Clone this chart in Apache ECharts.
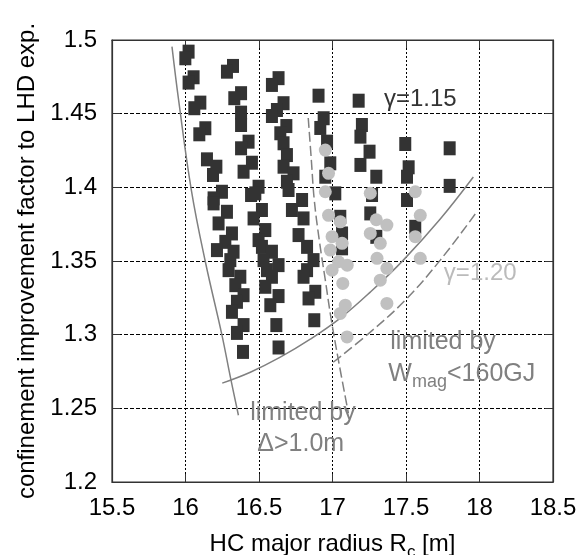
<!DOCTYPE html>
<html><head><meta charset="utf-8">
<script src="https://cdn.jsdelivr.net/npm/echarts@6/dist/echarts.min.js"></script>
<style>html,body{margin:0;padding:0;background:#fff}#c{width:584px;height:555px}</style>
</head><body><div id="c"></div>
<script>
const xTicks = ['15.5','16','16.5','17','17.5','18','18.5'];
const yTicks = ['1.2','1.25','1.3','1.35','1.4','1.45','1.5'];

// gamma = 1.15 cases (black squares)
const squaresX = [
  16.021,15.999,16.323,16.282,16.055,16.021,16.633,16.588,16.378,16.332,
  16.101,16.060,16.667,16.622,16.588,16.378,16.378,16.135,16.094,16.686,
  16.645,16.667,16.429,16.378,16.690,16.667,16.146,16.210,16.187,16.452,
  16.395,16.735,16.690,16.701,16.248,16.191,16.497,16.446,
  16.191,16.282,16.225,16.316,16.271,16.214,16.327,16.305,16.293,16.373,
  16.339,16.395,16.350,16.316,16.395,16.350,16.391,
  16.475,16.520,16.463,16.543,16.497,16.520,16.588,16.531,16.633,16.554,
  16.588,16.543,16.633,16.577,16.618,16.633,
  16.793,16.724,16.803,16.769,16.827,16.871,16.827,16.803,16.883,16.837,16.876,
  16.905,16.940,16.917,16.963,16.985,16.951,17.019,17.053,17.065,17.065,
  17.178,17.200,17.190,17.252,17.190,17.298,17.269,17.257,17.298,
  17.495,17.518,17.507,17.507,17.563,
  17.797,17.797
];
const squaresY = [
  1.4921,1.4876,1.4824,1.4785,1.4747,1.4711,1.4741,1.4695,1.4639,1.4605,
  1.4575,1.4537,1.4571,1.4525,1.4484,1.4507,1.4423,1.4401,1.4360,1.4416,
  1.4367,1.4299,1.4310,1.4265,1.4219,1.4140,1.4190,1.4140,1.4084,1.4167,
  1.4106,1.4095,1.4038,1.3982,1.3970,1.3925,1.4004,1.3948,
  1.3891,1.3834,1.3755,1.3687,1.3630,1.3574,1.3563,1.3506,1.3438,1.3393,
  1.3336,1.3268,1.3223,1.3155,1.3065,1.3012,1.2883,
  1.3959,1.3846,1.3789,1.3710,1.3642,1.3596,1.3563,1.3506,1.3472,1.3438,
  1.3393,1.3325,1.3262,1.3200,1.3065,1.2913,
  1.3914,1.3846,1.3789,1.3676,1.3596,1.3506,1.3438,1.3393,1.3291,1.3246,1.3098,
  1.4622,1.4469,1.4403,1.4310,1.4163,1.4072,1.3959,1.3800,1.3687,1.3586,
  1.4588,1.4423,1.4344,1.4242,1.4152,1.4072,1.3948,1.3823,1.3664,
  1.4294,1.4136,1.4072,1.3914,1.3732,
  1.4265,1.4010
];
// gamma = 1.20 cases (gray circles)
const circlesX = [
  16.951,16.973,16.951,16.973,17.053,16.997,17.065,16.985,17.041,17.100,16.997,17.070,17.087,17.053,17.099,
  17.257,17.298,17.370,17.257,17.325,17.303,17.370,17.325,17.370,
  17.563,17.597,17.563,17.597
];
const circlesY = [
  1.4253,1.4095,1.3970,1.3810,1.3766,1.3665,1.3620,1.3574,1.3495,1.3472,1.3438,1.3348,1.3200,1.3144,1.2985,
  1.3960,1.3780,1.3744,1.3687,1.3620,1.3518,1.3450,1.3370,1.3212,
  1.3970,1.3810,1.3665,1.3518
];
// limit curves
const deltaSolidX = [15.908,15.953,16.04,16.135,16.248,16.305,16.36];
const deltaSolidY = [1.4955,1.4593,1.398,1.3495,1.2997,1.2713,1.2453];
const deltaDashX = [16.835,16.856,16.876,16.910,16.951,16.992,17.040,17.108];
const deltaDashY = [1.4471,1.4186,1.3914,1.3642,1.3371,1.3099,1.2828,1.2468];
const wmagSolidX = [16.250,16.441,16.645,16.849,17.053,17.257,17.482,17.733,17.958];
const wmagSolidY = [1.2671,1.2745,1.2847,1.2969,1.3112,1.3289,1.3506,1.3785,1.4070];
const wmagDashX = [17.005,17.257,17.495,17.733,17.971];
const wmagDashY = [1.2813,1.3017,1.3234,1.3506,1.3819];

// annotations: text and anchor in data coordinates
const annotations = [
  {key:'g115', text:'γ=1.15', x:17.597, y:1.460},
  {key:'g120', text:'γ=1.20', x:18.005, y:1.3418},
  {key:'lim', text:'limited by', x:17.393, y:1.295},
  {key:'limRich', text:'{n|W}{s|mag}{n|<160GJ}', x:17.38, y:1.2732},
  {key:'lim', text:'limited by', x:16.44, y:1.2467},
  {key:'lim', text:'Δ>1.0m', x:16.488, y:1.226}
];

const zip = (a, b) => a.map((v, i) => [v, b[i]]);
const FONT = '"Liberation Sans", Arial, Helvetica, sans-serif';
const chart = echarts.init(document.getElementById('c'));

function xAx(extra) {
  return Object.assign({
    type:'value', min:15.5, max:18.5, interval:0.5,
    axisLine:{show:true, onZero:false, lineStyle:{color:'#333', width:1.2}},
    axisTick:{show:true, inside:true, length:8, lineStyle:{color:'#333', width:1}},
  }, extra);
}
function yAx(extra) {
  return Object.assign({
    type:'value', min:1.2, max:1.5, interval:0.05,
    axisLine:{show:true, onZero:false, lineStyle:{color:'#333', width:1.2}},
    axisTick:{show:true, inside:true, length:8, lineStyle:{color:'#333', width:1}},
  }, extra);
}

const option = {
  animation:false,
  backgroundColor:'#fff',
  grid:{left:112, right:31, top:40, bottom:73, show:true, borderColor:'#333', borderWidth:1.2,
        containLabel:false, outerBoundsMode:'none'},
  xAxis:[
    xAx({
      position:'bottom',
      axisLabel:{margin:14, fontSize:24, color:'#000', fontFamily:FONT,
        formatter:(v)=>xTicks[Math.round((v-15.5)/0.5)]},
      splitLine:{show:true, lineStyle:{color:'#000', type:[2,2], width:1}},
      name:'{n|HC major radius R}{s|c}{n| [m]}',
      nameLocation:'middle', nameGap:50,
      nameTextStyle:{rich:{
        n:{fontSize:24, fontFamily:FONT, color:'#000', lineHeight:24, verticalAlign:'top'},
        s:{fontSize:17, fontFamily:FONT, color:'#000', lineHeight:17, verticalAlign:'top', padding:[12,0,0,0]}
      }}
    }),
    xAx({position:'top', axisLabel:{show:false}, splitLine:{show:false}})
  ],
  yAxis:[
    yAx({
      position:'left',
      axisLabel:{margin:15, fontSize:24, color:'#000', fontFamily:FONT,
        formatter:(v)=>yTicks[Math.round((v-1.2)/0.05)]},
      splitLine:{show:true, lineStyle:{color:'#000', type:[4,2], width:1}},
      name:'confinement improvement factor to LHD exp.',
      nameLocation:'middle', nameGap:72,
      nameTextStyle:{fontSize:24, fontFamily:FONT, color:'#000'}
    }),
    yAx({position:'right', axisLabel:{show:false}, splitLine:{show:false}})
  ],
  series:[
    {type:'line', data:zip(deltaSolidX, deltaSolidY), smooth:0.4, symbol:'none',
     lineStyle:{color:'#808080', width:1.5}, z:2},
    {type:'line', data:zip(deltaDashX, deltaDashY), smooth:0.4, symbol:'none',
     lineStyle:{color:'#808080', width:1.5, type:[10,4]}, z:2},
    {type:'line', data:zip(wmagSolidX, wmagSolidY), smooth:0.4, symbol:'none',
     lineStyle:{color:'#808080', width:1.5}, z:2},
    {type:'line', data:zip(wmagDashX, wmagDashY), smooth:0.4, symbol:'none',
     lineStyle:{color:'#808080', width:1.5, type:[10,4]}, z:2},
    {type:'scatter', data:zip(squaresX, squaresY), symbol:'rect', symbolSize:[12,14],
     itemStyle:{color:'#333333', opacity:1}, z:3},
    {type:'scatter', data:zip(circlesX, circlesY), symbol:'circle', symbolSize:13,
     itemStyle:{color:'#c0c0c0', opacity:1}, z:4}
  ]
};
chart.setOption(option);

const styles = {
  g115:{fill:'#333', font:'24px '+FONT, align:'center', verticalAlign:'middle'},
  g120:{fill:'#bbbbbb', font:'24px '+FONT, align:'center', verticalAlign:'middle'},
  lim:{fill:'#808080', font:'25px '+FONT, align:'left', verticalAlign:'middle'},
  limRich:{fill:'#808080', font:'25px '+FONT, align:'left', verticalAlign:'middle',
    rich:{
      n:{fontSize:25, fontFamily:FONT, fill:'#808080', lineHeight:25, verticalAlign:'top'},
      s:{fontSize:18, fontFamily:FONT, fill:'#808080', lineHeight:18, verticalAlign:'top', padding:[11,0,0,0]}
    }}
};
const graphics = annotations.map(a => {
  const p = chart.convertToPixel({xAxisIndex:0, yAxisIndex:0}, [a.x, a.y]);
  return {type:'text', x:p[0], y:p[1], z:10, style:Object.assign({text:a.text}, styles[a.key])};
});
chart.setOption({graphic:graphics});
</script></body></html>
